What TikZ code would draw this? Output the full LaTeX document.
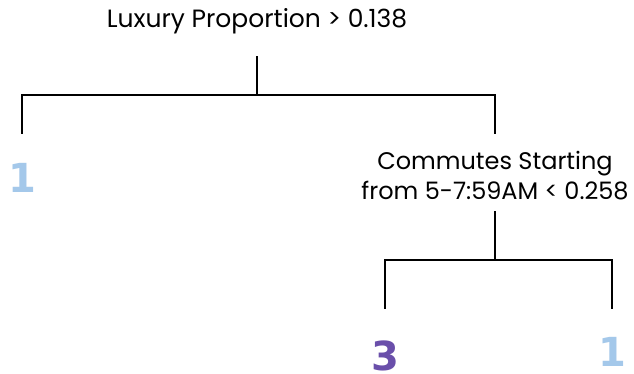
\documentclass[tikz,border=0pt]{standalone}
\usepackage{fontspec}
\setmainfont{Poppins}
\newfontfamily\leaffont{DejaVu Sans}
\definecolor{leafblue}{HTML}{A4C8EA}
\definecolor{leafpurple}{HTML}{6A4FAA}
\begin{document}
\begin{tikzpicture}[x=1pt,y=-1pt,
  edge/.style={line width=2pt,line cap=rect},
  split/.style={align=center,inner sep=0pt,anchor=base},
  leaf/.style={font=\leaffont\fontsize{40}{40}\selectfont\bfseries,inner sep=0pt,anchor=base}]
\useasboundingbox[fill=white] (0,0) rectangle (634,374);
% split nodes (base anchor sits on the last line)
\node[split,font=\fontsize{25}{30}\selectfont] (root) at (257,28) {Luxury Proportion > 0.138};
\node[split,font=\fontsize{24}{30}\selectfont] (comm) at (495,200) {Commutes Starting\\from 5-7:59AM < 0.258};
% leaves
\node[leaf,text=leafblue] (l1) at (22,193) {1};
\node[leaf,text=leafpurple] (l3) at (385,370) {3};
\node[leaf,text=leafblue] (l2) at (612,366) {1};
% connector anchors
\coordinate (r0) at (257,57);
\coordinate (rb) at (257,95);
\coordinate (rl) at (22,95);
\coordinate (rr) at (495,95);
\coordinate (l1t) at (22,133);
\coordinate (commt) at (495,133);
\coordinate (c0) at (495,212);
\coordinate (cb) at (495,260);
\coordinate (cl) at (385,260);
\coordinate (cr) at (612,260);
\coordinate (l3t) at (385,308);
\coordinate (l2t) at (612,308);
% connectors
\draw[edge] (r0) -- (rb);
\draw[edge] (l1t) -- (rl) -- (rr) -- (commt);
\draw[edge] (c0) -- (cb);
\draw[edge] (l3t) -- (cl) -- (cr) -- (l2t);
\end{tikzpicture}
\end{document}
